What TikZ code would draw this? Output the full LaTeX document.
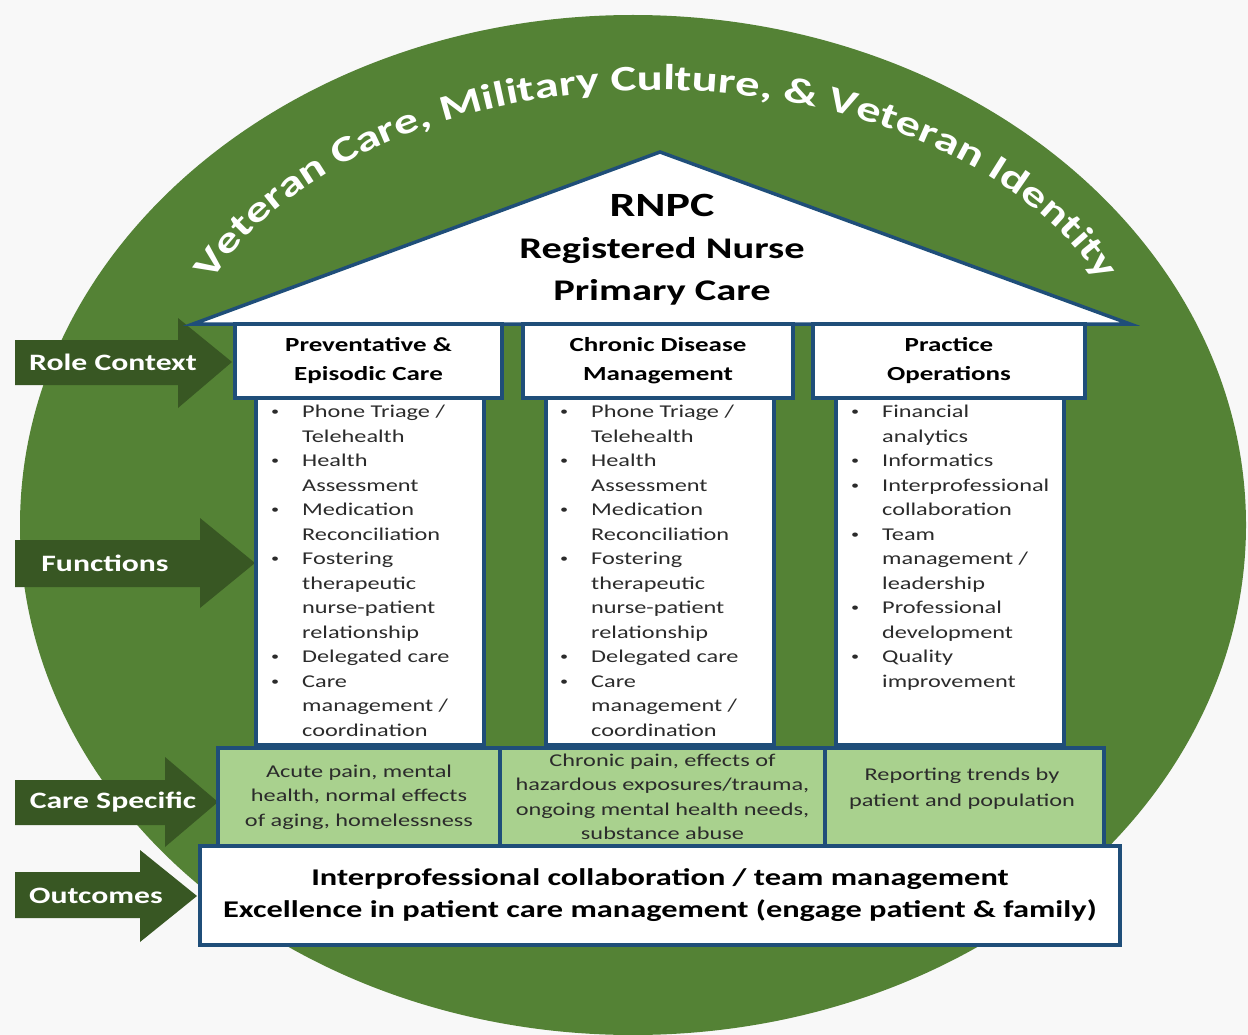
\documentclass[tikz,border=0pt]{standalone}
\usepackage{fontspec}
\setmainfont[FakeStretch=1.35]{Carlito}
\usetikzlibrary{positioning,decorations.text}

\definecolor{pagegray}{HTML}{F8F8F8}
\definecolor{ringgreen}{HTML}{548235}
\definecolor{arrowgreen}{HTML}{385723}
\definecolor{carelight}{HTML}{A9D18E}
\definecolor{houseblue}{HTML}{1F4E79}
\definecolor{textgray}{HTML}{2B2B2B}

\newcommand{\bdot}{\hspace*{3pt}\raisebox{2pt}{\fontsize{12}{12}\selectfont\textbullet}}
\newcommand{\bitem}[1]{\makebox[34pt][l]{\bdot}#1}
\newcommand{\bcont}[1]{\hspace*{34pt}#1}
\newcommand{\archfont}{\bfseries\fontsize{36}{42}\selectfont}

\tikzset{
  housebox/.style={draw=houseblue,line width=3.5pt,fill=white,inner sep=0pt},
  capbox/.style={housebox,minimum height=74pt,align=center,text=black,
    font=\bfseries\fontsize{20}{29}\selectfont},
  shaftbox/.style={housebox,minimum width=228pt,minimum height=347pt},
  carebox/.style={draw=houseblue,line width=3.5pt,fill=carelight,minimum height=98pt,
    inner sep=0pt,align=center,text=textgray,font=\fontsize{18}{24.5}\selectfont},
  caretext/.style={align=center,inner sep=0pt,text=textgray,font=\fontsize{18}{26}\selectfont},
  listtext/.style={align=left,anchor=north west,inner sep=0pt,text=textgray,
    font=\fontsize{18}{24.5}\selectfont},
  arrowlabel/.style={text=white,inner sep=0pt,font=\bfseries\fontsize{23.5}{27}\selectfont},
  sidearrow/.style={fill=arrowgreen}
}

\begin{document}
\begin{tikzpicture}[x=1pt,y=-1pt]
  \useasboundingbox (0,0) rectangle (1248,1035);
  \fill[pagegray] (0,0) rectangle (1248,1035);
  \fill[ringgreen] (633,525) ellipse [x radius=613, y radius=510];

  % arched title
  \path[decorate,decoration={text along path,text align=center,text color=white,
      text={|\archfont|Veteran Care, Military Culture, {\&} Veteran Identity}}]
    (656,398) ++(-172:480 and 308) arc[start angle=-172,end angle=-8,x radius=480,y radius=308];

  % side arrows
  \fill[sidearrow] (15,340) -- (178,340) -- (178,318) -- (232,362) -- (178,408) -- (178,385) -- (15,385) -- cycle;
  \fill[sidearrow] (15,540) -- (200,540) -- (200,518) -- (255,563) -- (200,608) -- (200,587) -- (15,587) -- cycle;
  \fill[sidearrow] (15,780) -- (165,780) -- (165,757) -- (218,802) -- (165,847) -- (165,825) -- (15,825) -- cycle;
  \fill[sidearrow] (15,872) -- (140,872) -- (140,850) -- (197,896) -- (140,942) -- (140,918) -- (15,918) -- cycle;
  \node[arrowlabel] (rolectx) at (113,362) {Role Context};
  \node[arrowlabel] (functions) at (105,563) {Functions};
  \node[arrowlabel] (carespec) at (113,802) {Care Specific};
  \node[arrowlabel] (outcomes) at (96,896) {Outcomes};

  % pillars
  \node[shaftbox] (shaft1) at (370,571.5) {};
  \node[shaftbox] (shaft2) at (660,571.5) {};
  \node[shaftbox] (shaft3) at (950,571.5) {};

  \node[listtext] (list1) at (268,405) {\bitem{Phone Triage /}\\\bcont{Telehealth}\\\bitem{Health}\\\bcont{Assessment}\\
    \bitem{Medication}\\\bcont{Reconciliation}\\\bitem{Fostering}\\\bcont{therapeutic}\\\bcont{nurse-patient}\\
    \bcont{relationship}\\\bitem{Delegated care}\\\bitem{Care}\\\bcont{management /}\\\bcont{coordination}};
  \node[listtext] (list2) at (557,405) {\bitem{Phone Triage /}\\\bcont{Telehealth}\\\bitem{Health}\\\bcont{Assessment}\\
    \bitem{Medication}\\\bcont{Reconciliation}\\\bitem{Fostering}\\\bcont{therapeutic}\\\bcont{nurse-patient}\\
    \bcont{relationship}\\\bitem{Delegated care}\\\bitem{Care}\\\bcont{management /}\\\bcont{coordination}};
  \node[listtext] (list3) at (848,405) {\bitem{Financial}\\\bcont{analytics}\\\bitem{Informatics}\\\bitem{Interprofessional}\\
    \bcont{collaboration}\\\bitem{Team}\\\bcont{management /}\\\bcont{leadership}\\\bitem{Professional}\\
    \bcont{development}\\\bitem{Quality}\\\bcont{improvement}};

  % roof and capitals
  \draw[draw=houseblue,line width=3.5pt,fill=white,line join=miter] (193,324) -- (660,152) -- (1130,324) -- cycle;
  \node[align=center,text=black,font=\bfseries\fontsize{30}{42}\selectfont] (roof) at (662,250)
    {{\fontsize{34}{42}\selectfont RNPC}\\Registered Nurse\\Primary Care};

  \node[capbox,minimum width=267pt] (cap1) at (368.5,361) {Preventative \&\\Episodic Care};
  \node[capbox,minimum width=270pt] (cap2) at (658,361) {Chronic Disease\\Management};
  \node[capbox,minimum width=272pt] (cap3) at (949,361) {Practice\\Operations};

  % care specific row
  \node[carebox,minimum width=282pt] (care1) at (359,797) {Acute pain, mental\\health, normal effects\\of aging, homelessness};
  \node[carebox,minimum width=325pt] (care2) at (662.5,797) {Chronic pain, effects of\\hazardous exposures/trauma,\\ongoing mental health needs,\\substance abuse};
  \node[carebox,minimum width=279pt] (care3) at (964.5,797) {};
  \node[caretext] (care3txt) at (962,789) {Reporting trends by\\patient and population};

  % foundation
  \node[housebox,minimum width=920pt,minimum height=99pt,align=center,text=black,
    font=\bfseries\fontsize{24}{32}\selectfont] (found) at (660,895.5)
    {Interprofessional collaboration / team management\\Excellence in patient care management (engage patient \& family)};
\end{tikzpicture}
\end{document}
